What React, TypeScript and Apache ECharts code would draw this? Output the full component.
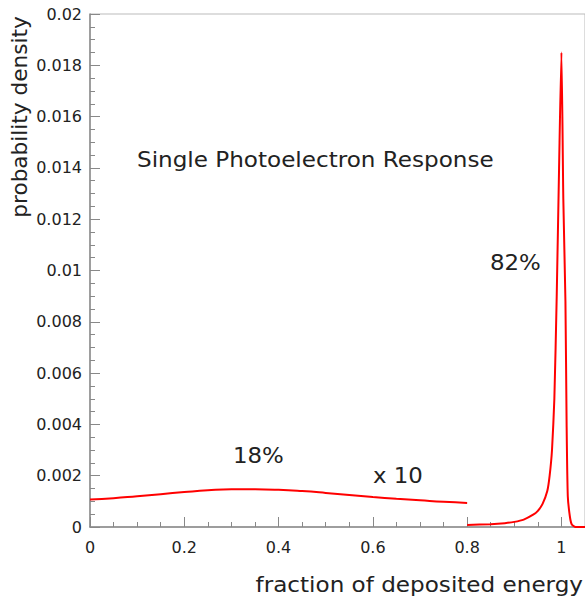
import React, { useEffect, useRef } from "react";
import * as echarts from "echarts";

// Low-energy (backscatter) component, shown x10
const lowX = [0, 0.05, 0.1, 0.15, 0.2, 0.25, 0.3, 0.35, 0.4, 0.45, 0.5, 0.55, 0.6, 0.65, 0.7, 0.75, 0.8];
const lowY = [0.00107, 0.00112, 0.0012, 0.00128, 0.00136, 0.00143, 0.00147, 0.00147, 0.00145, 0.0014, 0.00133, 0.00125, 0.00117, 0.0011, 0.00104, 0.00098, 0.00094];

// Main photopeak component
const peakX = [0.8, 0.85, 0.88, 0.9, 0.92, 0.94, 0.95, 0.96, 0.97, 0.975, 0.98, 0.985, 0.99, 0.995, 1.0, 1.004, 1.0085, 1.011, 1.0135, 1.018, 1.022, 1.03, 1.05];
const peakY = [0.00008, 0.00011, 0.00015, 0.0002, 0.00029, 0.00048, 0.00063, 0.0009, 0.0014, 0.002, 0.003, 0.005, 0.009, 0.014, 0.0185, 0.0128, 0.0088, 0.004, 0.0012, 0.0004, 0.0001, 0, 0];

const xTicks = [0, 0.2, 0.4, 0.6, 0.8, 1];
const title = "Single Photoelectron Response";
const xTitle = "fraction of deposited energy";
const yTitle = "probability density";
const lowLabel = "18%";
const peakLabel = "82%";
const scaleLabel = "x 10";

export default function App() {
  const ref = useRef<HTMLDivElement>(null);
  useEffect(() => {
    if (!ref.current) return;
    const chart = echarts.init(ref.current, null, { renderer: "svg" });
    const font = "DejaVu Sans";
    const textColor = "#222";
    const axisColor = "#888";
    const txt = (text: string, x: number, y: number, sx: number, align = "left") => ({
      type: "text",
      x,
      y,
      scaleX: sx,
      style: {
        text,
        font: `21px "${font}"`,
        fill: textColor,
        align,
        verticalAlign: "middle",
      },
    });
    chart.setOption({
      animation: false,
      textStyle: { fontFamily: font },
      grid: {
        left: 90,
        right: 0,
        top: 14,
        bottom: 75,
        show: true,
        borderColor: "#bbb",
        borderWidth: 1,
      },
      xAxis: {
        type: "value",
        min: 0,
        max: 1.05,
        interval: 0.2,
        axisLine: { show: true, onZero: false, lineStyle: { color: axisColor, width: 1.5 } },
        axisTick: { show: true, inside: true, length: 10, lineStyle: { color: axisColor } },
        minorTick: { show: true, splitNumber: 4, length: 5, lineStyle: { color: axisColor } },
        splitLine: { show: false },
        axisLabel: {
          color: textColor,
          fontSize: 16,
          fontFamily: font,
          margin: 12,
          showMaxLabel: false,
          formatter: (v: number) => (xTicks.some((t) => Math.abs(t - v) < 1e-9) ? String(parseFloat(v.toFixed(2))) : ""),
        },
      },
      yAxis: {
        type: "value",
        min: 0,
        max: 0.02,
        interval: 0.002,
        axisLine: { show: true, lineStyle: { color: axisColor, width: 1.5 } },
        axisTick: { show: true, inside: true, length: 10, lineStyle: { color: axisColor } },
        minorTick: { show: true, splitNumber: 4, length: 5, lineStyle: { color: axisColor } },
        splitLine: { show: false },
        axisLabel: {
          color: textColor,
          fontSize: 16,
          fontFamily: font,
          margin: 8,
          formatter: (v: number) => String(parseFloat(v.toFixed(4))),
        },
      },
      series: [
        {
          type: "line",
          data: lowX.map((x, i) => [x, lowY[i]]),
          smooth: true,
          showSymbol: false,
          lineStyle: { color: "#ff0000", width: 2 },
        },
        {
          type: "line",
          data: peakX.map((x, i) => [x, peakY[i]]),
          smooth: 0.2,
          showSymbol: false,
          lineStyle: { color: "#ff0000", width: 2 },
        },
      ],
      graphic: [
        txt(title, 137, 160, 1.1),
        txt(peakLabel, 490, 263, 1.09),
        txt(lowLabel, 233, 456, 1.09),
        txt(scaleLabel, 373, 476, 1.09),
        txt(xTitle, 583, 585, 1.1, "right"),
        {
          type: "text",
          x: 20,
          y: 117,
          rotation: Math.PI / 2,
          scaleX: 1.03,
          style: {
            text: yTitle,
            font: `21px "${font}"`,
            fill: textColor,
            align: "center",
            verticalAlign: "middle",
          },
        },
      ],
    });
    return () => chart.dispose();
  }, []);
  return (
    <div
      ref={ref}
      style={{ position: "fixed", left: 0, top: 0, width: 585, height: 602, background: "#fff" }}
    />
  );
}
